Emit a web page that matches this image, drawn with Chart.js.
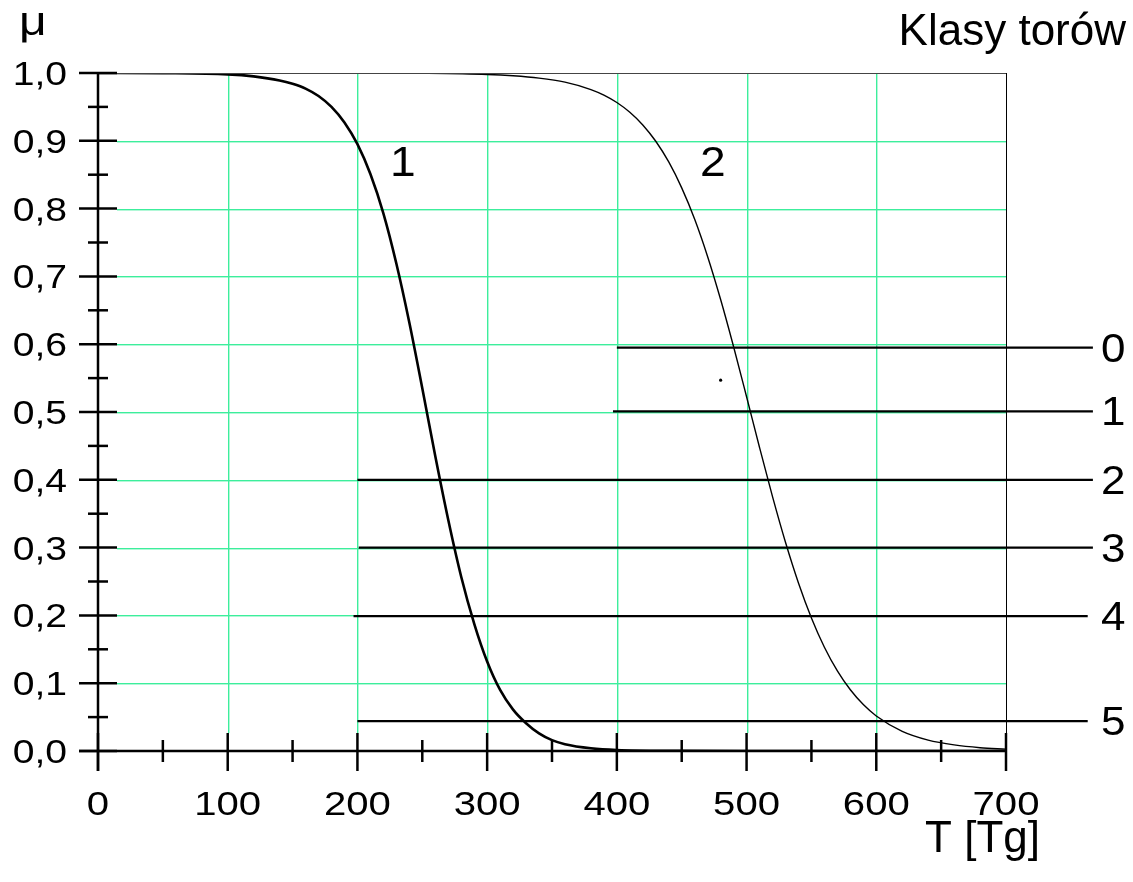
<!DOCTYPE html>
<html>
<head>
<meta charset="utf-8">
<script src="https://cdn.jsdelivr.net/npm/chart.js@4.4.0/dist/chart.umd.min.js"></script>
<style>
  body { margin: 0; background: #fff; }
</style>
</head>
<body>
<canvas id="chart" width="1133" height="882"></canvas>
<script>
// krzywe przynaleznosci mu(T)
var curve1X = [0, 50, 100, 120, 140, 150, 160, 170, 180, 190, 200, 210, 220, 230, 240, 250, 260, 270, 280, 290, 300, 310, 320, 330, 340, 350, 360, 380, 400, 450, 500, 600, 700];
var curve1Y = [1.0, 0.9997, 0.998, 0.995, 0.989, 0.984, 0.977, 0.966, 0.95, 0.927, 0.895, 0.851, 0.793, 0.719, 0.632, 0.535, 0.435, 0.341, 0.257, 0.188, 0.132, 0.09, 0.061, 0.041, 0.026, 0.016, 0.01, 0.004, 0.0015, 0.0003, 0, 0, 0];

var curve2X = [0, 200, 250, 300, 320, 340, 360, 380, 390, 400, 410, 420, 430, 440, 450, 460, 470, 480, 490, 500, 510, 520, 530, 540, 550, 560, 570, 580, 590, 600, 620, 640, 660, 680, 700];
var curve2Y = [1.0, 0.9999, 0.9995, 0.9978, 0.9959, 0.9925, 0.9865, 0.9756, 0.9674, 0.9565, 0.9421, 0.9234, 0.8993, 0.8688, 0.8306, 0.7843, 0.7291, 0.6659, 0.5963, 0.5225, 0.4476, 0.3752, 0.3079, 0.2479, 0.1962, 0.1531, 0.1182, 0.0903, 0.0685, 0.0517, 0.029, 0.0161, 0.009, 0.0049, 0.0027];

// klasy torow: poziom, poczatek, koniec
var classNames = ["0", "1", "2", "3", "4", "5"];
var classLevel = [0.595, 0.501, 0.4, 0.3, 0.199, 0.044];
var classStart = [400, 397, 200, 201, 197, 200];
var classEnd = [767, 767, 767, 767, 763, 763];

var curveNames = ["1", "2"];
var curveLabelX = [235, 474];
var curveLabelY = [0.87, 0.87];

var xTicks = [0, 100, 200, 300, 400, 500, 600, 700];
var yTicks = [0, 0.1, 0.2, 0.3, 0.4, 0.5, 0.6, 0.7, 0.8, 0.9, 1.0];
var yTickLabels = ["0,0", "0,1", "0,2", "0,3", "0,4", "0,5", "0,6", "0,7", "0,8", "0,9", "1,0"];

var stray = [{x: 480, y: 0.547}];

var GREEN = '#3cee9c';
var FONT = '"Liberation Sans", Arial, sans-serif';

function toPoints(xs, ys) {
    return xs.map(function (x, i) { return {x: x, y: ys[i]}; });
}

function wideText(ctx, txt, x, y, align, sx) {
    ctx.save();
    ctx.translate(x, y);
    ctx.scale(sx, 1);
    ctx.textAlign = align;
    ctx.textBaseline = 'alphabetic';
    ctx.fillText(txt, 0, 0);
    ctx.restore();
}

function line(ctx, x1, y1, x2, y2) {
    ctx.beginPath();
    ctx.moveTo(x1, y1);
    ctx.lineTo(x2, y2);
    ctx.stroke();
}

var datasets = [
    {data: toPoints(curve1X, curve1Y), borderColor: '#000', borderWidth: 2.6, cubicInterpolationMode: 'monotone'},
    {data: toPoints(curve2X, curve2Y), borderColor: '#000', borderWidth: 1.4, cubicInterpolationMode: 'monotone'}
];
classLevel.forEach(function (lv, i) {
    datasets.push({
        data: [{x: classStart[i], y: lv}, {x: classEnd[i], y: lv}],
        borderColor: '#000',
        borderWidth: 2.2,
        clip: false
    });
});
datasets.push({data: stray, showLine: false, pointRadius: 1.6, backgroundColor: '#000', borderWidth: 0});

// siatka, osie, podpisy
var frame = {
    id: 'frame',
    beforeDatasetsDraw: function (chart) {
        var ctx = chart.ctx, xs = chart.scales.x, ys = chart.scales.y;
        var a = chart.chartArea;
        ctx.save();
        ctx.fillStyle = GREEN;
        yTicks.forEach(function (v) {
            if (v <= 0 || v >= 1) return;
            var py = Math.round(ys.getPixelForValue(v));
            ctx.fillRect(a.left + 19, py, a.right - a.left - 19, 1.4);
        });
        xTicks.forEach(function (v) {
            if (v <= 0 || v >= 700) return;
            var px = Math.round(xs.getPixelForValue(v));
            ctx.fillRect(px, a.top, 1.4, a.bottom - a.top - 18);
        });
        ctx.restore();
    },
    afterDatasetsDraw: function (chart) {
        var ctx = chart.ctx, xs = chart.scales.x, ys = chart.scales.y;
        var a = chart.chartArea;
        ctx.save();
        // ramka gorna i prawa
        ctx.lineWidth = 1;
        ctx.strokeStyle = '#444';
        line(ctx, a.left, a.top + 0.5, a.right, a.top + 0.5);
        ctx.strokeStyle = '#000';
        line(ctx, a.right + 0.5, a.top, a.right + 0.5, a.bottom + 20);

        // osie
        ctx.lineWidth = 2.5;
        line(ctx, a.left, a.top, a.left, a.bottom + 20);
        line(ctx, a.left - 19, a.bottom, a.right, a.bottom);

        // znaczniki osi Y
        yTicks.forEach(function (v) {
            var py = ys.getPixelForValue(v);
            line(ctx, a.left - 19, py, a.left + 19, py);
            if (v < 1) {
                var pm = ys.getPixelForValue(v + 0.05);
                line(ctx, a.left - 10, pm, a.left + 10, pm);
            }
        });
        // znaczniki osi X
        xTicks.forEach(function (v) {
            var px = xs.getPixelForValue(v);
            line(ctx, px, a.bottom - 18, px, a.bottom + 20);
            if (v < 700) {
                var pm = xs.getPixelForValue(v + 50);
                line(ctx, pm, a.bottom - 11, pm, a.bottom + 11);
            }
        });

        ctx.fillStyle = '#000';
        ctx.font = '34px ' + FONT;
        yTicks.forEach(function (v, i) {
            wideText(ctx, yTickLabels[i], 67, ys.getPixelForValue(v) + 12, 'right', 1.15);
        });
        xTicks.forEach(function (v) {
            wideText(ctx, String(v), xs.getPixelForValue(v), a.bottom + 64, 'center', 1.18);
        });

        ctx.font = '40px ' + FONT;
        wideText(ctx, '\u03bc', 19, 35, 'left', 1.2);

        ctx.font = '44px ' + FONT;
        wideText(ctx, 'Klasy torów', 1126, 45, 'right', 1);
        wideText(ctx, 'T [Tg]', 1040, 852, 'right', 1);

        ctx.font = '42px ' + FONT;
        curveNames.forEach(function (n, i) {
            wideText(ctx, n, xs.getPixelForValue(curveLabelX[i]), ys.getPixelForValue(curveLabelY[i]) + 15, 'center', 1.1);
        });

        ctx.font = '40px ' + FONT;
        classNames.forEach(function (n, i) {
            wideText(ctx, n, 1101, ys.getPixelForValue(classLevel[i]) + 14, 'left', 1.1);
        });
        ctx.restore();
    }
};

new Chart(document.getElementById('chart').getContext('2d'), {
    type: 'scatter',
    data: {datasets: datasets},
    options: {
        responsive: false,
        animation: false,
        showLine: true,
        elements: {point: {radius: 0}},
        layout: {padding: {left: 98, right: 127, top: 73, bottom: 131}},
        plugins: {legend: {display: false}, tooltip: {enabled: false}},
        scales: {
            x: {type: 'linear', min: 0, max: 700, display: false},
            y: {type: 'linear', min: 0, max: 1, display: false}
        }
    },
    plugins: [frame]
});
</script>
</body>
</html>
